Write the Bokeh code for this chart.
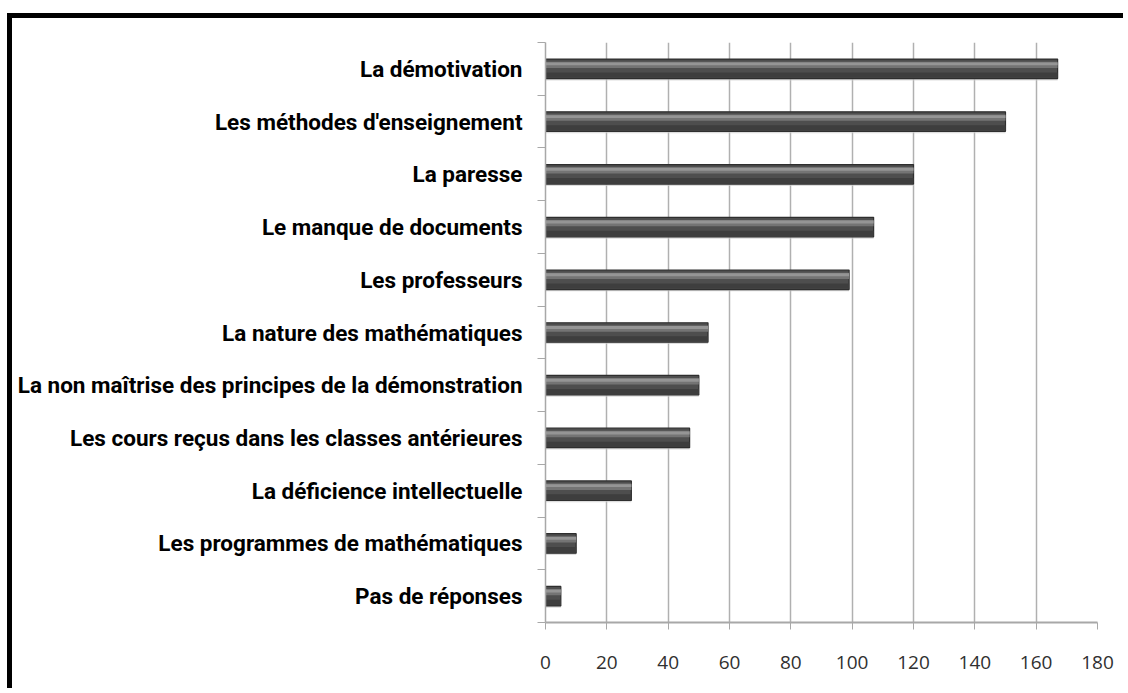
from bokeh.plotting import figure
from bokeh.models import Range1d, LinearAxis, FixedTicker, ColumnDataSource
from bokeh.embed import file_html
from bokeh.resources import INLINE

categories = [
    "La démotivation",
    "Les méthodes d'enseignement",
    "La paresse",
    "Le manque de documents",
    "Les professeurs",
    "La nature des mathématiques",
    "La non maîtrise des principes de la démonstration",
    "Les cours reçus dans les classes antérieures",
    "La déficience intellectuelle",
    "Les programmes de mathématiques",
    "Pas de réponses",
]
values = [167, 150, 120, 107, 99, 53, 50, 47, 28, 10, 5]
x_ticks = [0, 20, 40, 60, 80, 100, 120, 140, 160, 180]

n = len(categories)
# category slots, first category at the top
pos = [n - 1 - i + 0.5 for i in range(n)]
src = ColumnDataSource(dict(cat=categories, val=values, y=pos,
                            y_sh=[v - 0.035 for v in pos],
                            y_lo=[v - 0.12 for v in pos],
                            y_hi=[v + 0.075 for v in pos],
                            y_hi2=[v + 0.095 for v in pos]))

p = figure(width=1116, height=675,
           y_range=Range1d(0, n), x_range=Range1d(0, 180),
           output_backend="svg", toolbar_location=None,
           y_axis_location=None,
           min_border_left=533, min_border_right=31,
           min_border_top=24, min_border_bottom=71)
p.outline_line_color = None
p.background_fill_color = "white"
p.border_fill_color = "white"
p.styles = {"margin-left": "7px", "margin-top": "13px",
            "border-left": "5px solid black", "border-top": "5px solid black"}

# boundary ticks axis (closest to the plot)
tick_axis = LinearAxis(ticker=FixedTicker(ticks=list(range(n + 1))))
tick_axis.major_tick_out = 8
tick_axis.major_tick_in = 0
tick_axis.minor_tick_line_color = None
tick_axis.major_tick_line_color = "#a8a8a8"
tick_axis.axis_line_color = "#a8a8a8"
tick_axis.axis_line_width = 1.5
tick_axis.major_label_text_font_size = "1px"
tick_axis.major_label_text_alpha = 0
tick_axis.major_label_standoff = 0
p.add_layout(tick_axis, "left")

# category labels axis
cat_axis = LinearAxis(ticker=FixedTicker(ticks=pos))
cat_axis.major_label_overrides = {v: c for v, c in zip(pos, categories)}
cat_axis.major_tick_line_color = None
cat_axis.minor_tick_line_color = None
cat_axis.axis_line_color = None
cat_axis.major_label_standoff = 9
cat_axis.major_label_text_font = "Roboto"
cat_axis.major_label_text_font_style = "bold"
cat_axis.major_label_text_font_size = "22.5px"
cat_axis.major_label_text_color = "black"
p.add_layout(cat_axis, "left")

p.xaxis.ticker = FixedTicker(ticks=x_ticks)
p.xaxis.major_tick_out = 7
p.xaxis.major_tick_in = 0
p.xaxis.minor_tick_line_color = None
p.xaxis.axis_line_color = "#a8a8a8"
p.xaxis.axis_line_width = 2
p.xaxis.major_tick_line_color = "#a8a8a8"
p.xaxis.major_label_text_font = "Open Sans"
p.xaxis.major_label_text_font_size = "19px"
p.xaxis.major_label_text_color = "#303030"
p.xaxis.major_label_standoff = 26

p.xgrid.ticker = FixedTicker(ticks=x_ticks)
p.xgrid.grid_line_color = "#b0b0b0"
p.xgrid.grid_line_width = 1.5
p.ygrid.grid_line_color = None

# shadow
p.hbar(y="y_sh", right="val", left=0, height=0.37,
       source=src, fill_color="#cfcfcf", fill_alpha=0.7, line_color=None)
# main bar
p.hbar(y="y", right="val", left=0, height=0.37, source=src,
       fill_color="#4e4e4e", line_color="#2e2e2e", line_width=1.2)
# lower darker zone
p.hbar(y="y_lo", right="val", left=0, height=0.1,
       source=src, fill_color="#3e3e3e", line_color=None)
# highlight bands
p.hbar(y="y_hi", right="val", left=0, height=0.12,
       source=src, fill_color="#747474", line_color=None)
p.hbar(y="y_hi2", right="val", left=0, height=0.055,
       source=src, fill_color="#959595", line_color=None)

open("out.html", "w").write(file_html(p, INLINE))
